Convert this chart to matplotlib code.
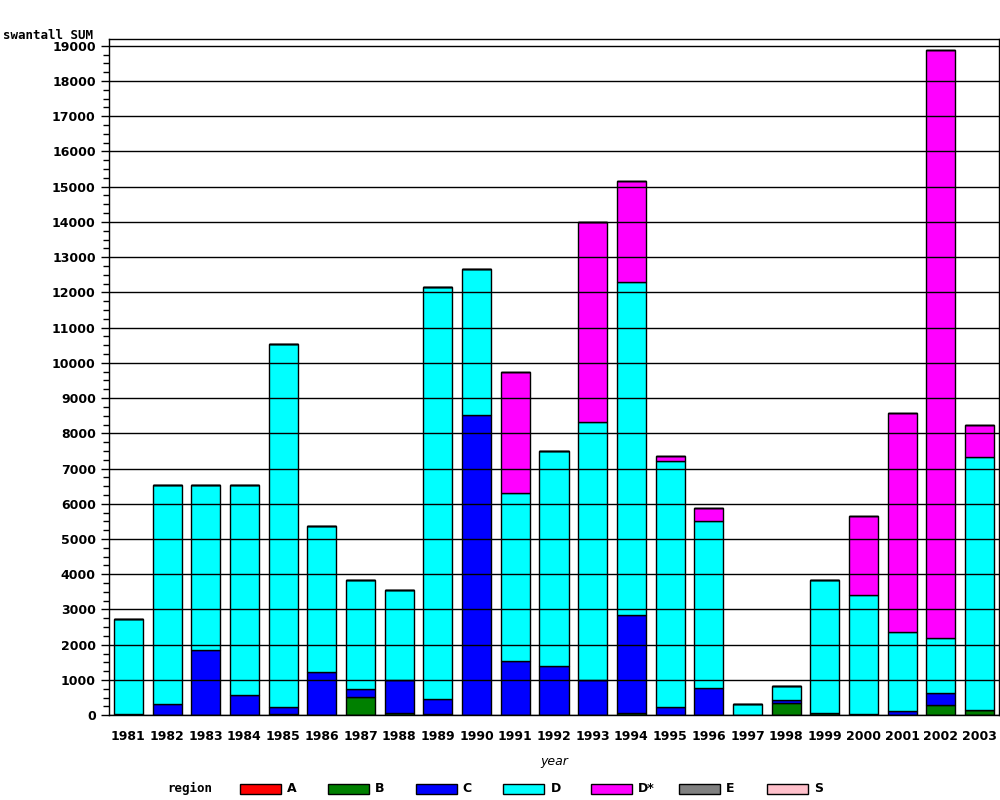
import matplotlib.pyplot as plt
import numpy as np
from matplotlib.patches import Rectangle
from matplotlib.ticker import MultipleLocator

years = [str(y) for y in range(1981, 2004)]
regions = ["A", "B", "C", "D", "D*", "E", "S"]
colors = ["#ff0000", "#008000", "#0000ff", "#00ffff", "#ff00ff", "#808080", "#ffc0cb"]

# segment values per region (stacked bottom -> top)
A = [0] * 23
B = [0, 0, 10, 0, 40, 0, 520, 60, 30, 0, 0, 0, 0, 50, 0, 0, 0, 355, 60, 0, 0, 280, 145]
C = [30, 330, 1850, 585, 190, 1240, 230, 930, 430, 8520, 1530, 1410, 1000, 2780, 230, 770, 0, 65, 0, 30, 115, 345, 0]
D = [2700, 6190, 4670, 5945, 10310, 4120, 3080, 2550, 11700, 4150, 4770, 6090, 7320, 9470, 6980, 4730, 310, 410, 3770, 3370, 2255, 1555, 7185]
Dstar = [0, 0, 0, 0, 0, 0, 0, 0, 0, 0, 3440, 0, 5670, 2860, 140, 370, 0, 0, 0, 2250, 6210, 16700, 910]
E = [0] * 23
S = [0] * 23
series = [A, B, C, D, Dstar, E, S]

fig = plt.figure(figsize=(10, 8), dpi=100)
ax = fig.add_axes([0.109, 0.106, 0.890, 0.845])

x = np.arange(len(years))
bottom = np.zeros(len(years))
for vals, col in zip(series, colors):
    vals = np.array(vals, dtype=float)
    ax.bar(x, vals, width=0.75, bottom=bottom, color=col, edgecolor="black", linewidth=1)
    bottom += vals

ax.set_xlim(-0.5, 22.5)
ax.set_ylim(0, 19185)
ax.yaxis.set_major_locator(MultipleLocator(1000))
ax.yaxis.set_minor_locator(MultipleLocator(250))
ax.grid(axis="y", which="major", color="black", linewidth=1)
ax.set_axisbelow(False)
ax.set_xticks(x)
ax.set_xticklabels(years, fontsize=9, fontweight="bold")
ax.tick_params(axis="x", length=0, pad=11)
ax.tick_params(axis="y", which="major", length=6, labelsize=9, width=1)
ax.tick_params(axis="y", which="minor", length=4, width=1)
for lab in ax.get_yticklabels():
    lab.set_fontweight("bold")
for sp in ax.spines.values():
    sp.set_linewidth(1)

ax.set_xlabel("year", fontsize=9, fontstyle="italic", labelpad=8)
fig.text(0.003, 0.948, "swantall SUM", fontsize=9, family="DejaVu Sans Mono",
         fontweight="bold", va="bottom")

# legend row
fig.text(0.167, 0.014, "region", fontsize=9, fontweight="bold", family="DejaVu Sans Mono", va="center")
for i, (name, col) in enumerate(zip(regions, colors)):
    x0 = 0.240 + i * 0.0878
    fig.patches.append(Rectangle((x0, 0.0075), 0.041, 0.0125, transform=fig.transFigure,
                                 facecolor=col, edgecolor="black", linewidth=1))
    fig.text(x0 + 0.047, 0.014, name, fontsize=9, fontweight="bold", va="center")

fig.savefig("out.png")
